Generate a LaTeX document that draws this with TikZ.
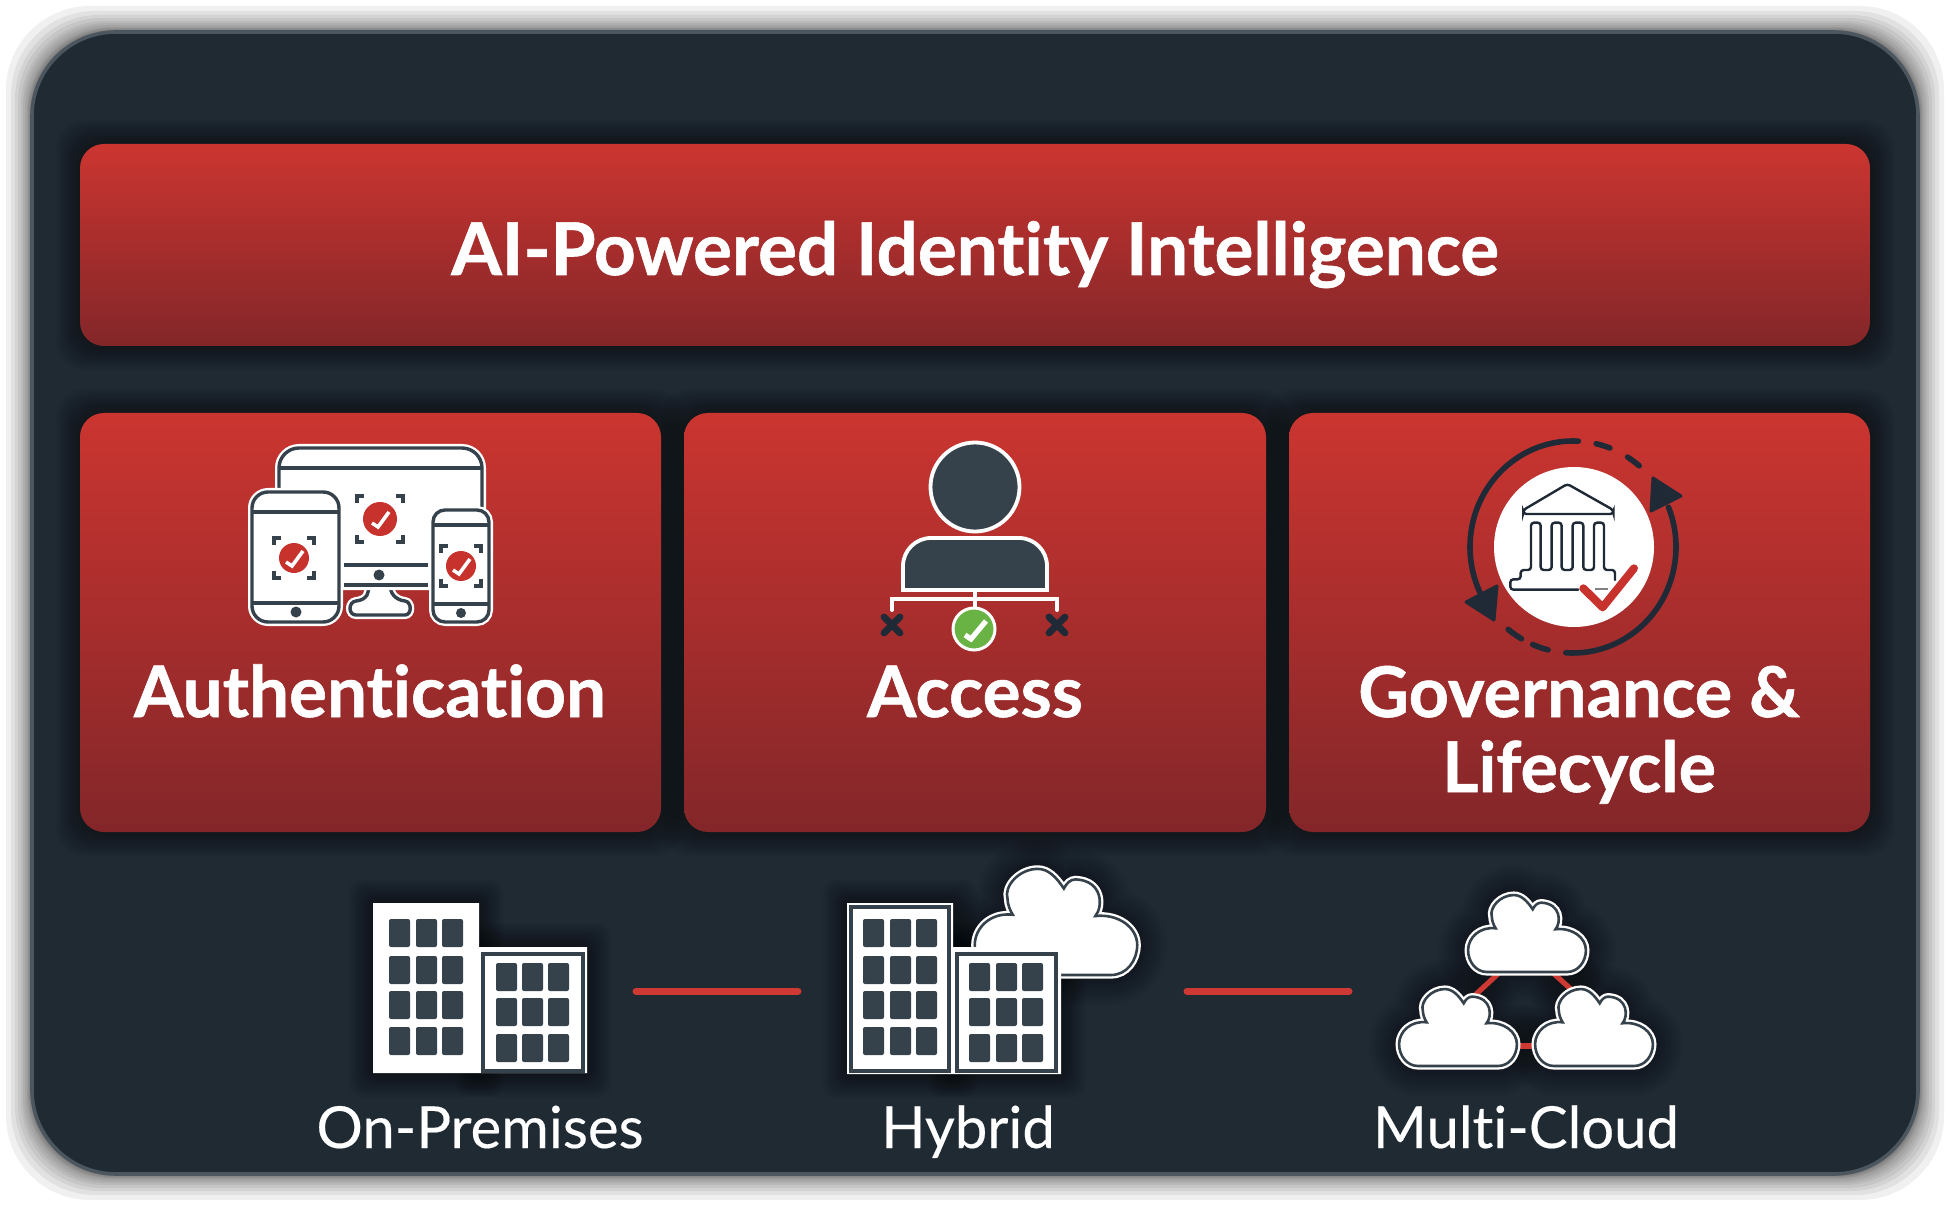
\documentclass[tikz,border=0pt]{standalone}
\usepackage{fontspec}
\setmainfont[Ligatures=NoCommon, BoldFeatures={FakeBold=0.8}]{Lato}
\newfontfamily\placefont[Ligatures=NoCommon, FakeBold=0.3]{Lato}
\definecolor{panelbg}{HTML}{1F2A33}
\definecolor{panelrim}{HTML}{4C565E}
\definecolor{cardtop}{HTML}{CB3530}
\definecolor{cardbot}{HTML}{832629}
\definecolor{icondark}{HTML}{36424B}
\definecolor{ringdark}{HTML}{1F2A36}
\definecolor{checkred}{HTML}{C8322D}
\definecolor{linkred}{HTML}{CE3A33}
\definecolor{okgreen}{HTML}{69B244}
\tikzset{
	card/.style={rounded corners=12pt, top color=cardtop, bottom color=cardbot, inner sep=0pt},
	headtext/.style={anchor=base, text=white, font=\fontsize{35.5}{40}\selectfont\bfseries},
	placetext/.style={anchor=base, text=white, font=\fontsize{29}{34}\selectfont\placefont},
	halo/.style={draw=white, fill=white, line width=4pt, rounded corners=#1},
	outline/.style={draw=icondark, line width=1.7pt, rounded corners=#1},
	outline/.default=0pt,
	bar/.style={draw=icondark, line width=1.7pt},
	bracket/.style={draw=icondark, line width=2pt},
	window/.style={fill=icondark, rounded corners=1pt},
	frame/.style={draw=icondark, fill=white, line width=1.8pt},
	ring/.style={draw=ringdark, line width=2.8pt, line cap=round},
	bank/.style={draw=ringdark, line width=1.2pt, rounded corners=1.5pt, line cap=round},
	link/.style={draw=linkred, line width=3.5pt, line cap=round},
	pics/cloudicon/.style={code={
		\draw[draw=white, fill=white, line width=3.6pt] (-42,0) -- (42,0) .. controls (54,0) and (62,-11) .. (62,-23) .. controls (62,-36) and (48,-47) .. (30,-45) .. controls (36,-52) and (36,-72) .. (15,-73) .. controls (11,-73) and (8,-70) .. (6,-66) .. controls (0,-75) and (-6,-81) .. (-14,-81) .. controls (-28,-81) and (-40,-68) .. (-37,-58) .. controls (-37,-54) and (-35,-49) .. (-33,-46) .. controls (-50,-48) and (-62,-36) .. (-62,-23) .. controls (-62,-11) and (-54,0) .. (-42,0) -- cycle;
		\draw[draw=icondark, fill=white, line width=1.3pt] (-42,0) -- (42,0) .. controls (54,0) and (62,-11) .. (62,-23) .. controls (62,-36) and (48,-47) .. (30,-45) .. controls (36,-52) and (36,-72) .. (15,-73) .. controls (11,-73) and (8,-70) .. (6,-66) .. controls (0,-75) and (-6,-81) .. (-14,-81) .. controls (-28,-81) and (-40,-68) .. (-37,-58) .. controls (-37,-54) and (-35,-49) .. (-33,-46) .. controls (-50,-48) and (-62,-36) .. (-62,-23) .. controls (-62,-11) and (-54,0) .. (-42,0) -- cycle;
	}},
	pics/cloudglow/.style={code={
		\foreach \w in {3,6,...,30}
			\draw[black, opacity=.04, line width=\w pt, line join=round] (-42,0) -- (42,0) .. controls (54,0) and (62,-11) .. (62,-23) .. controls (62,-36) and (48,-47) .. (30,-45) .. controls (36,-52) and (36,-72) .. (15,-73) .. controls (11,-73) and (8,-70) .. (6,-66) .. controls (0,-75) and (-6,-81) .. (-14,-81) .. controls (-28,-81) and (-40,-68) .. (-37,-58) .. controls (-37,-54) and (-35,-49) .. (-33,-46) .. controls (-50,-48) and (-62,-36) .. (-62,-23) .. controls (-62,-11) and (-54,0) .. (-42,0) -- cycle;
	}},
}
\begin{document}
\begin{tikzpicture}[x=0.5pt, y=0.5pt, yscale=-1]
	\useasboundingbox (0,0) rectangle (1950,1208);
	\fill[white] (0,0) rectangle (1950,1208);

	\foreach \g in {1,2,3,4,6,8,10,13,16,20,25}
		\fill[black, opacity=.06, rounded corners=42pt] (31-\g,31-\g) rectangle (1919+\g,1175+\g);
	\draw[draw=panelrim, fill=panelbg, line width=1.8pt, rounded corners=42pt] (32,32) rectangle (1918,1174);

	\foreach \xa/\ya/\xb/\yb in {80/144/1870/346, 80/413/661/832, 684/413/1266/832, 1289/413/1870/832}
		\foreach \g in {2,4,...,24}
			\fill[black, opacity=.035, rounded corners=14pt] (\xa-\g,\ya-\g) rectangle (\xb+\g,\yb+\g);

	\node[card, minimum width=895pt, minimum height=101pt] (titlebar) at (975,245) {};
	\node[card, minimum width=290.5pt, minimum height=209.5pt] (authcard) at (370.5,622.5) {};
	\node[card, minimum width=291pt, minimum height=209.5pt] (accesscard) at (975,622.5) {};
	\node[card, minimum width=290.5pt, minimum height=209.5pt] (govcard) at (1579.5,622.5) {};

	\node[headtext, font=\fontsize{36.4}{40}\selectfont\bfseries] (titletext) at (975,275) {AI-Powered Identity Intelligence};
	\node[headtext] (authtext) at (370,717) {Authentication};
	\node[headtext] (accesstext) at (975,717) {Access};
	\node[headtext, font=\fontsize{35}{40}\selectfont\bfseries] (govtext) at (1579,717) {Governance \&};
	\node[headtext, font=\fontsize{35}{40}\selectfont\bfseries] (lifetext) at (1579,792) {Lifecycle};

	\draw[draw=white, fill=white, line width=4pt] (368,585) .. controls (370,592) and (367,600) .. (356,601) .. controls (348,602) and (348,615) .. (356,615) -- (405,615) .. controls (412,615) and (412,602) .. (405,601) .. controls (395,600) and (389,592) .. (391,585) -- cycle;
	\draw[bar] (368,585) .. controls (370,592) and (367,600) .. (356,601) .. controls (348,602) and (348,615) .. (356,615) -- (405,615) .. controls (412,615) and (412,602) .. (405,601) .. controls (395,600) and (389,592) .. (391,585);
	\draw[halo=10pt] (279,448) rectangle (482,586);
	\draw[outline=10pt] (279,560) -- (279,448) -- (482,448) -- (482,560);
	\draw[bar] (279,468) -- (482,468);
	\draw[bar] (344,565) -- (428,565);
	\draw[bar] (344,585) -- (428,585);
	\fill[icondark] (379,575) circle (5.5);

	\draw[halo=8pt] (252,492) rectangle (339,622);
	\draw[outline=8pt] (252,492) rectangle (339,622);
	\draw[bar] (252,512) -- (339,512);
	\draw[bar] (252,603) -- (339,603);
	\fill[icondark] (296,612) circle (5.5);

	\draw[halo=6pt] (433,510) rectangle (489,622);
	\draw[outline=6pt] (433,510) rectangle (489,622);
	\draw[bar] (433,525) -- (489,525);
	\draw[bar] (433,604) -- (489,604);
	\fill[icondark] (461,613) circle (5);

	\foreach \x/\y/\r/\h in {380/519/17/23, 294/558/15/20, 461/566/15/20} {
		\fill[checkred] (\x,\y) circle (\r);
		\draw[draw=white, line width=1.8pt] (\x-8,\y+4) -- (\x-2,\y+8) -- (\x+9,\y-7);
		\foreach \sx/\sy in {1/1, 1/-1, -1/1, -1/-1}
			\draw[bracket] ({\x+\sx*\h},{\y+\sy*(\h-7)}) -- ({\x+\sx*\h},{\y+\sy*\h}) -- ({\x+\sx*(\h-7)},{\y+\sy*\h});
	}

	\draw[draw=white, fill=icondark, line width=1.9pt] (975,487) circle (44.5);
	\draw[draw=white, fill=icondark, line width=1.9pt] (903,590) -- (903,566) arc[start angle=180, end angle=270, radius=28] -- (1019,538) arc[start angle=270, end angle=360, radius=28] -- (1047,590) -- cycle;
	\draw[draw=white, line width=2pt] (975,590) -- (975,610);
	\draw[draw=white, line width=2pt, line cap=round] (892,610) -- (892,599) -- (1057,599) -- (1057,610);
	\draw[draw=white, fill=okgreen, line width=1.5pt] (974,629) circle (21);
	\draw[draw=white, line width=2.6pt] (965,635) -- (971,639) -- (986,621);
	\foreach \x in {892,1057} {
		\draw[draw=ringdark, line width=3.4pt, line cap=round] (\x-8,617) -- (\x+8,633);
		\draw[draw=ringdark, line width=3.4pt, line cap=round] (\x-8,633) -- (\x+8,617);
	}

	\coordinate (ringc) at (1573,547);
	\fill[white] (1574,547) circle (80);
	\draw[ring] (ringc) ++(273:103 and 106) arc[start angle=273, end angle=153, x radius=103, y radius=106];
	\draw[ring] (ringc) ++(-22:103 and 106) arc[start angle=-22, end angle=94, x radius=103, y radius=106];
	\foreach \a/\b in {-77/-69, -58/-50, 129/120, 113/104}
		\draw[ring] (ringc) ++(\a:103 and 106) arc[start angle=\a, end angle=\b, x radius=103, y radius=106];
	\draw[ringdark, fill=ringdark, line width=1.5pt, line join=round] (1653,478) -- (1681,496) -- (1651,511) -- cycle;
	\draw[ringdark, fill=ringdark, line width=1.5pt, line join=round] (1497,586) -- (1466,602) -- (1494,620) -- cycle;
	\begin{scope}[shift={(1450,425)}, scale=0.3333]
		\draw[bank] (352,177) -- (490,255) -- (490,267) -- (220,267) -- (220,255) -- cycle;
		\draw[bank] (385,494) -- (181,494) -- (181,463) -- (212,463) -- (212,435) -- (243,435) -- (243,293) -- (272,293) -- (272,435) -- (305,435) -- (305,293) -- (335,293) -- (335,435) -- (368,435) -- (368,293) -- (400,293) -- (400,435) -- (432,435) -- (432,293) -- (462,293) -- (462,435) -- (495,435) -- (495,465);
		\draw[draw=checkred, line width=4pt, line cap=round, line join=round] (400,490) -- (458,547) -- (552,430);
		\draw[draw=gray, line width=1.2pt] (435,492) -- (475,492);
	\end{scope}

	\foreach \xa/\ya/\xb/\yb in {373/903/479/1073, 479/947/587/1073, 847/903/953/1074, 953/947/1061/1074}
		\foreach \g in {2,4,...,24}
			\fill[black, opacity=.04, rounded corners=6pt] (\xa-\g,\ya-\g) rectangle (\xb+\g,\yb+\g);

	\fill[white] (373,903) -- (479,903) -- (479,947) -- (587,947) -- (587,1073) -- (373,1073) -- cycle;
	\draw[frame] (483,954) rectangle (583,1071);
	\foreach \x in {389,416,442}
		\foreach \y in {919,956,991,1027}
			\fill[window] (\x,\y) rectangle +(21,28);
	\foreach \x in {496,522,548}
		\foreach \y in {963,998,1034}
			\fill[window] (\x,\y) rectangle +(21,28);

	\pic[scale=1.31, transform shape] at (1056,975) {cloudglow};
	\pic[scale=1.31, transform shape] at (1056,975) {cloudicon};
	\fill[white] (847,903) -- (953,903) -- (953,947) -- (1061,947) -- (1061,1074) -- (847,1074) -- cycle;
	\draw[frame] (851,907) rectangle (949,1071);
	\draw[frame] (957,954) rectangle (1056,1071);
	\foreach \x in {863,890,916}
		\foreach \y in {919,956,991,1027}
			\fill[window] (\x,\y) rectangle +(21,28);
	\foreach \x in {969,996,1022}
		\foreach \y in {963,998,1034}
			\fill[window] (\x,\y) rectangle +(21,28);

	\coordinate (premend) at (636,991);
	\coordinate (hybridin) at (798,991);
	\coordinate (hybridend) at (1187,991);
	\coordinate (multiin) at (1349,991);
	\draw[link] (premend) -- (hybridin);
	\draw[link] (hybridend) -- (multiin);

	\coordinate (topcloud) at (1527,972);
	\coordinate (leftcloud) at (1458,1066);
	\coordinate (rightcloud) at (1594,1066);
	\coordinate (leftmid) at (1500,1046);
	\coordinate (rightmid) at (1550,1046);
	\pic[scale=.95, transform shape] at (topcloud) {cloudglow};
	\pic[scale=.95, transform shape] at (leftcloud) {cloudglow};
	\pic[scale=.95, transform shape] at (rightcloud) {cloudglow};
	\draw[draw=linkred, line width=2.6pt] (topcloud) ++(-27,0) -- ++(-27,25);
	\draw[draw=linkred, line width=2.6pt] (topcloud) ++(25,0) -- ++(22,20);
	\draw[draw=linkred, line width=2.6pt] (leftmid) -- (rightmid);
	\pic[scale=.95, transform shape] at (topcloud) {cloudicon};
	\pic[scale=.95, transform shape] at (leftcloud) {cloudicon};
	\pic[scale=.95, transform shape] at (rightcloud) {cloudicon};

	\node[placetext] (premtext) at (480,1148) {On-Premises};
	\node[placetext] (hybridtext) at (968,1148) {Hybrid};
	\node[placetext] (multitext) at (1526,1148) {Multi-Cloud};
\end{tikzpicture}
\end{document}
